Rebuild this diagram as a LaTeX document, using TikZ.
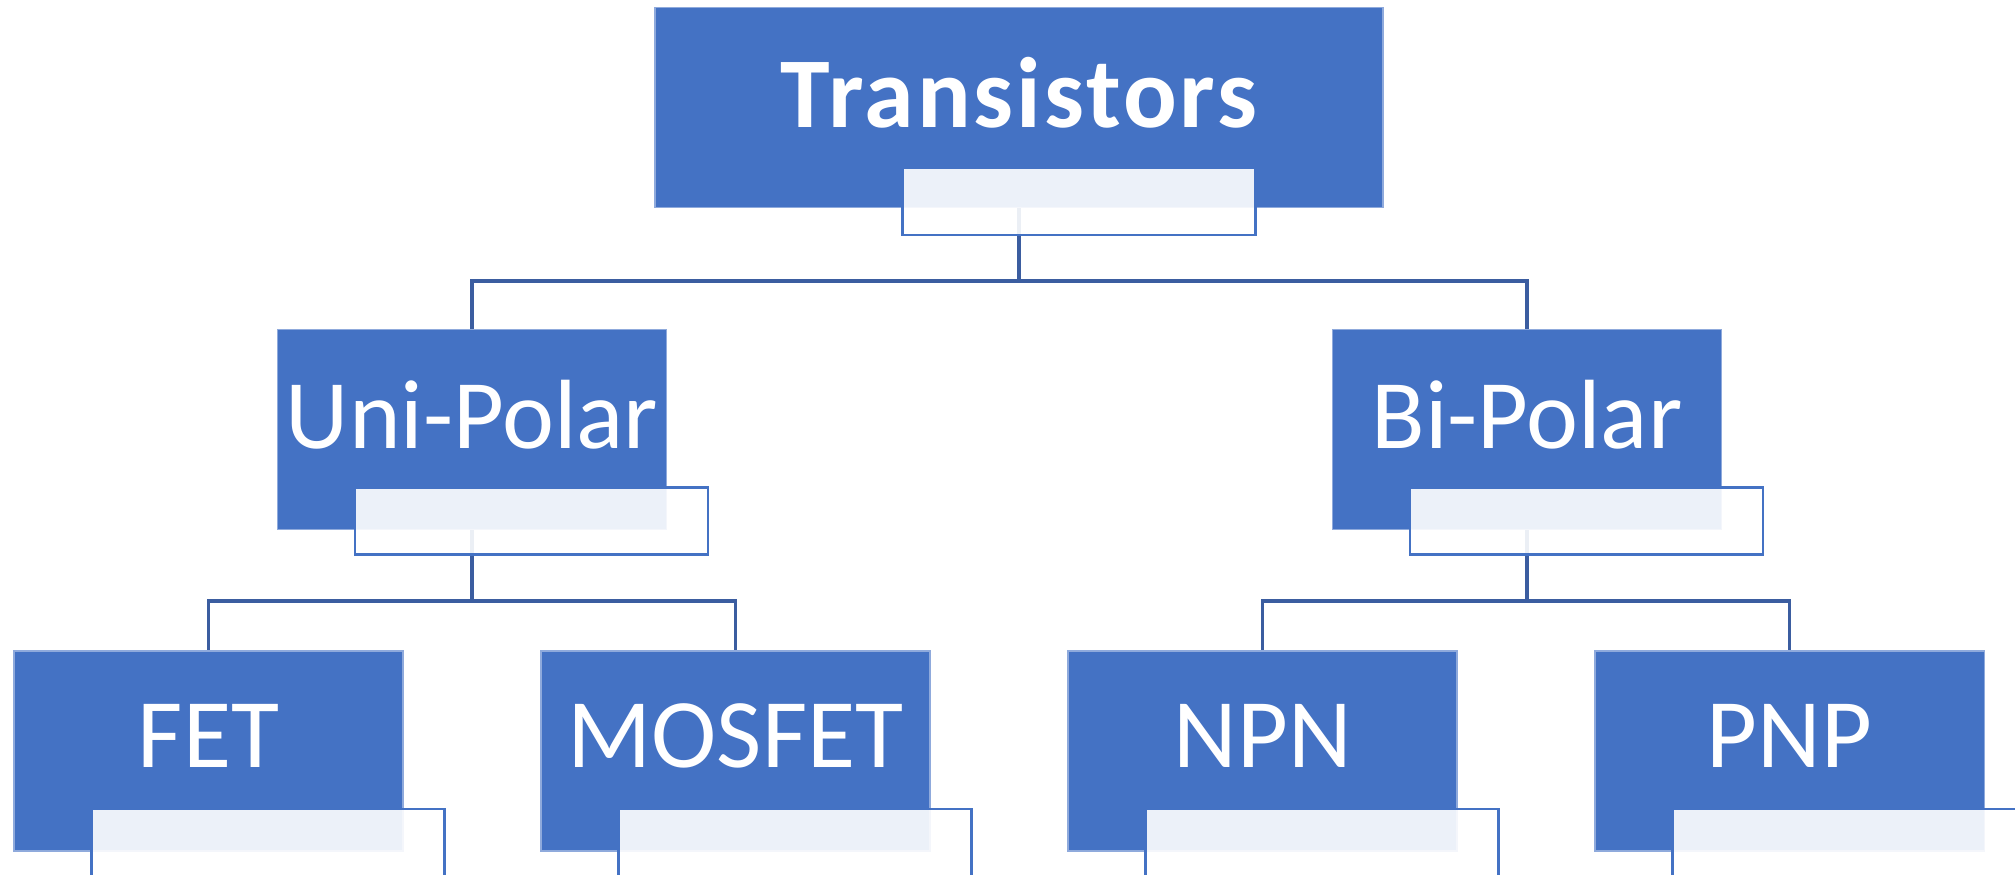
\documentclass[tikz,border=0pt]{standalone}
\usepackage{fontspec}
\setmainfont{Carlito}
\usepackage{xcolor}
\usepackage{tikz}
\usetikzlibrary{calc}
\definecolor{boxblue}{RGB}{68,114,196}
\definecolor{linkblue}{RGB}{59,93,160}

\begin{document}
\begin{tikzpicture}[
  box/.style={fill=boxblue,draw=boxblue!60,line width=0.3pt,inner sep=0pt,
              minimum width=3.89cm,minimum height=2.0cm},
  tag/.style={draw=boxblue,line width=0.7pt,fill=white,fill opacity=0.9,
              anchor=north west,inner sep=0pt,minimum width=3.53cm,minimum height=0.67cm},
  lbl/.style={text=white,font=\fontsize{28}{32}\selectfont,yshift=0.15cm},
  link/.style={draw=linkblue,line width=0.9pt}]
\useasboundingbox (0,0) rectangle (20.15,-8.74);
\clip (0,0) rectangle (20.15,-8.74);
% boxes
\node[box,minimum width=7.28cm,label={[lbl,font=\fontsize{28.5}{32}\selectfont\bfseries\addfontfeature{LetterSpace=3}]center:Transistors}] (tr) at (10.19,-1.075) {};
\node[box,label={[lbl]center:Uni-Polar}] (uni) at (4.72,-4.295) {};
\node[box,label={[lbl]center:Bi-Polar}] (bi) at (15.27,-4.295) {};
\node[box,label={[lbl]center:FET}] (fet) at (2.085,-7.51) {};
\node[box,label={[lbl]center:MOSFET}] (mos) at (7.355,-7.51) {};
\node[box,label={[lbl]center:NPN}] (npn) at (12.625,-7.51) {};
\node[box,label={[lbl]center:PNP}] (pnp) at (17.895,-7.51) {};
% connectors
\draw[link] (tr.south) -- ++(0,-0.73) coordinate (bus1) -| (uni.north);
\draw[link] (bus1) -| (bi.north);
\draw[link] (uni.south) -- ++(0,-0.71) coordinate (bus2) -| (fet.north);
\draw[link] (bus2) -| (mos.north);
\draw[link] (bi.south) -- ++(0,-0.71) coordinate (bus3) -| (npn.north);
\draw[link] (bus3) -| (pnp.north);
% title tags
\node[tag] (trtag) at ($(tr.south west)+(2.47,0.41)$) {};
\foreach \b in {uni,bi,fet,mos,npn,pnp}
  \node[tag] (\b tag) at ($(\b.south west)+(0.77,0.44)$) {};
\end{tikzpicture}
\end{document}
